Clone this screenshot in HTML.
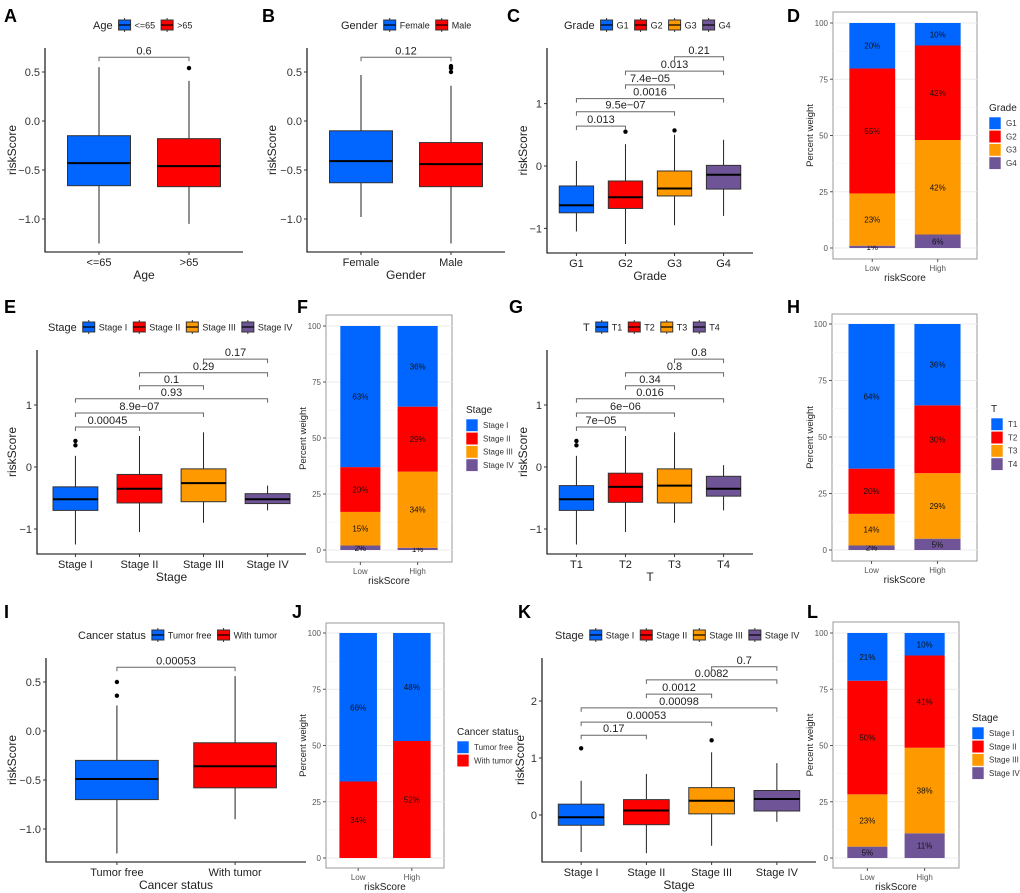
<!DOCTYPE html>
<html><head><meta charset="utf-8">
<style>
html,body{margin:0;padding:0;background:#fff;}
svg{display:block;font-family:"Liberation Sans",Arial,sans-serif;}
</style></head>
<body>
<svg id="fig" width="1020" height="893" viewBox="0 0 1020 893"></svg>
<script>
// ---------- DATA ----------
const A_categories=['<=65','>65'];
const A_min=[-1.25,-1.05], A_q1=[-0.66,-0.67], A_med=[-0.43,-0.46], A_q3=[-0.15,-0.18], A_max=[0.55,0.41];
const A_outliers=[[],[0.54]];
const A_cmpFrom=[0], A_cmpTo=[1], A_cmpLevel=[0.65], A_cmpP=['0.6'];
const A_ticks=[-1,-0.5,0,0.5], A_tickLabels=['\u22121.0','\u22120.5','0.0','0.5'];

const B_categories=['Female','Male'];
const B_min=[-0.98,-1.25], B_q1=[-0.63,-0.67], B_med=[-0.41,-0.44], B_q3=[-0.1,-0.22], B_max=[0.47,0.36];
const B_outliers=[[],[0.5,0.54,0.56]];
const B_cmpFrom=[0], B_cmpTo=[1], B_cmpLevel=[0.65], B_cmpP=['0.12'];

const C_categories=['G1','G2','G3','G4'];
const C_min=[-1.05,-1.25,-0.95,-0.8], C_q1=[-0.75,-0.68,-0.48,-0.37], C_med=[-0.63,-0.5,-0.36,-0.14], C_q3=[-0.32,-0.24,-0.08,0.01], C_max=[0.08,0.35,0.5,0.42];
const C_outliers=[[],[0.55],[0.57],[]];
const C_cmpFrom=[0,0,0,1,1,2], C_cmpTo=[1,2,3,2,3,3], C_cmpLevel=[0.64,0.87,1.08,1.3,1.52,1.75], C_cmpP=['0.013','9.5e\u221207','0.0016','7.4e\u221205','0.013','0.21'];
const C_ticks=[-1,0,1], C_tickLabels=['\u22121','0','1'];

const E_categories=['Stage I','Stage II','Stage III','Stage IV'];
const E_min=[-1.25,-1.05,-0.9,-0.7], E_q1=[-0.7,-0.58,-0.56,-0.59], E_med=[-0.52,-0.35,-0.26,-0.52], E_q3=[-0.32,-0.12,-0.03,-0.43], E_max=[0.18,0.5,0.56,-0.3];
const E_outliers=[[0.35,0.42],[],[],[]];
const E_cmpFrom=[0,0,0,1,1,2], E_cmpTo=[1,2,3,2,3,3], E_cmpLevel=[0.645,0.87,1.1,1.31,1.52,1.74], E_cmpP=['0.00045','8.9e\u221207','0.93','0.1','0.29','0.17'];

const G_categories=['T1','T2','T3','T4'];
const G_min=[-1.25,-1.05,-0.9,-0.7], G_q1=[-0.7,-0.57,-0.58,-0.47], G_med=[-0.52,-0.32,-0.3,-0.35], G_q3=[-0.3,-0.1,-0.03,-0.15], G_max=[0.18,0.5,0.56,0.03];
const G_outliers=[[0.35,0.42],[],[],[]];
const G_cmpFrom=[0,0,0,1,1,2], G_cmpTo=[1,2,3,2,3,3], G_cmpLevel=[0.645,0.87,1.1,1.31,1.52,1.74], G_cmpP=['7e\u221205','6e\u221206','0.016','0.34','0.8','0.8'];

const I_categories=['Tumor free','With tumor'];
const I_min=[-1.25,-0.9], I_q1=[-0.7,-0.58], I_med=[-0.49,-0.36], I_q3=[-0.3,-0.12], I_max=[0.26,0.56];
const I_outliers=[[0.36,0.5],[]];
const I_cmpFrom=[0], I_cmpTo=[1], I_cmpLevel=[0.65], I_cmpP=['0.00053'];

const K_categories=['Stage I','Stage II','Stage III','Stage IV'];
const K_min=[-0.65,-0.67,-0.54,-0.12], K_q1=[-0.18,-0.17,0.02,0.07], K_med=[-0.04,0.08,0.25,0.28], K_q3=[0.19,0.27,0.48,0.43], K_max=[0.6,0.72,1.1,0.91];
const K_outliers=[[1.17],[],[1.31],[]];
const K_cmpFrom=[0,0,0,1,1,2], K_cmpTo=[1,2,3,2,3,3], K_cmpLevel=[1.4,1.63,1.88,2.12,2.37,2.6], K_cmpP=['0.17','0.00053','0.00098','0.0012','0.0082','0.7'];
const K_ticks=[0,1,2], K_tickLabels=['0','1','2'];

// stacked bars (top category first)
const barGroups=['Low','High'];
const D_levels=['G1','G2','G3','G4'];
const D_low=[20,55,23,1], D_high=[10,42,42,6];
const F_levels=['Stage I','Stage II','Stage III','Stage IV'];
const F_low=[63,20,15,2], F_high=[36,29,34,1];
const H_levels=['T1','T2','T3','T4'];
const H_low=[64,20,14,2], H_high=[36,30,29,5];
const J_levels=['Tumor free','With tumor'];
const J_low=[66,34], J_high=[48,52];
const L_levels=['Stage I','Stage II','Stage III','Stage IV'];
const L_low=[21,50,23,5], L_high=[10,41,38,11];
const pctTicks=[0,25,50,75,100];

// ---------- DRAW ----------
const NS='http://www.w3.org/2000/svg';
const svg=document.getElementById('fig');
const PAL=['#0066FF','#FF0000','#FF9900','#6F5597'];
function mk(tag,attrs,parent){const e=document.createElementNS(NS,tag);for(const k in attrs)e.setAttribute(k,attrs[k]);(parent||svg).appendChild(e);return e;}
function txt(s,attrs,parent){const e=mk('text',attrs,parent);e.textContent=s;return e;}

function boxPanel(c){
  const g=mk('g',{});
  
  
  const n=c.cats.length, step=(c.right-c.axisX)/(n+0.2);
  const xs=i=>c.axisX+(0.6+i)*step;
  const ys=v=>c.p0-(v-c.v0)*c.ppu;
  const bw=0.7*step;
  // axes
  const ax=mk('path',{d:`M${c.axisX},${c.top}V${c.bottom}H${c.right}`,stroke:'#000','stroke-width':1.1,fill:'none'},g);
  
  
  c.ticks.forEach((t,i)=>{
    mk('line',{x1:c.axisX-3,x2:c.axisX,y1:ys(t),y2:ys(t),stroke:'#333'},g);
    const tl=txt(c.tickLabels[i],{x:c.axisX-5,y:ys(t)+4,'text-anchor':'end','font-size':11,fill:'#333'},g);
    
    
  });
  c.cats.forEach((cat,i)=>{
    mk('line',{x1:xs(i),x2:xs(i),y1:c.bottom,y2:c.bottom+3,stroke:'#333'},g);
    const xl=txt(cat,{x:xs(i),y:c.bottom+14,'text-anchor':'middle','font-size':11,fill:'#222'},g);
    
    
    // box
    const wh=mk('line',{x1:xs(i),x2:xs(i),y1:ys(c.max[i]),y2:ys(c.min[i]),stroke:'#222','stroke-width':1},g);
    
    
    const bx=mk('rect',{x:xs(i)-bw/2,y:ys(c.q3[i]),width:bw,height:ys(c.q1[i])-ys(c.q3[i]),fill:PAL[i],stroke:'#333','stroke-width':1},g);
    
    
    const md=mk('line',{x1:xs(i)-bw/2,x2:xs(i)+bw/2,y1:ys(c.med[i]),y2:ys(c.med[i]),stroke:'#000','stroke-width':2},g);
    
    
    c.out[i].forEach(o=>{
      const d=mk('circle',{cx:xs(i),cy:ys(o),r:2.2,fill:'#000'},g);
      
      
    });
  });
  // brackets
  c.from.forEach((f,k)=>{
    const y=ys(c.level[k]), x1=xs(f), x2=xs(c.to[k]);
    const br=mk('path',{d:`M${x1},${y+4}V${y}H${x2}V${y+4}`,stroke:'#666','stroke-width':1,fill:'none'},g);
    
    
    const pl=txt(c.p[k],{x:(x1+x2)/2,y:y-3,'text-anchor':'middle','font-size':11,fill:'#222'},g);
    
    
  });
  const xt=txt(c.xTitle,{x:(c.axisX+c.right)/2,y:c.bottom+27,'text-anchor':'middle','font-size':12,fill:'#222'},g);
  
  
  const yc=(c.top+c.bottom)/2;
  const yt=txt('riskScore',{x:c.yTitleX,y:yc,'text-anchor':'middle','font-size':12,fill:'#222',transform:`rotate(-90 ${c.yTitleX} ${yc})`},g);
  
  
  // legend
  let lx=c.legX;
  const lt=txt(c.xTitle,{x:lx,y:c.legY+4,'font-size':11,fill:'#222'},g);
  
  
  lx+=lt.getComputedTextLength()+6;
  c.cats.forEach((cat,i)=>{
    const le=mk('g',{},g);
    
    
    mk('line',{x1:lx+6,x2:lx+6,y1:c.legY-7,y2:c.legY+7,stroke:'#333'},le);
    mk('rect',{x:lx,y:c.legY-5,width:12,height:10,fill:PAL[i],stroke:'#333'},le);
    mk('line',{x1:lx,x2:lx+12,y1:c.legY,y2:c.legY,stroke:'#000','stroke-width':1.2},le);
    const t=txt(cat,{x:lx+16,y:c.legY+3.5,'font-size':9,fill:'#222'},le);
    lx+=16+t.getComputedTextLength()+6;
  });
}

function barPanel(c){
  const g=mk('g',{});
  
  
  const ys=v=>c.y0+(c.y100-c.y0)*v/100;
  const step=(c.bx2-c.bx1)/2.2, bw=0.7*step;
  const xs=i=>c.bx1+(0.6+i)*step;
  mk('rect',{x:c.bx1,y:c.by1,width:c.bx2-c.bx1,height:c.by2-c.by1,fill:'#fff',stroke:'#999','stroke-width':1},g);
  for(let v=12.5;v<100;v+=25) mk('line',{x1:c.bx1,x2:c.bx2,y1:ys(v),y2:ys(v),stroke:'#f3f3f3','stroke-width':0.6},g);
  pctTicks.forEach(t=>{
    mk('line',{x1:c.bx1,x2:c.bx2,y1:ys(t),y2:ys(t),stroke:'#ebebeb','stroke-width':1},g);
    mk('line',{x1:c.bx1-3,x2:c.bx1,y1:ys(t),y2:ys(t),stroke:'#555'},g);
    const tl=txt(String(t),{x:c.bx1-5,y:ys(t)+3,'text-anchor':'end','font-size':8,fill:'#555'},g);
    
    
  });
  [0,1].forEach(i=>mk('line',{x1:xs(i),x2:xs(i),y1:ys(0),y2:ys(100),stroke:'#ebebeb'},g));
  [c.low,c.high].forEach((vals,i)=>{
    const tot=vals.reduce((a,b)=>a+b,0);
    let cum=0;
    for(let k=vals.length-1;k>=0;k--){
      const a=cum/tot*100, b=(cum+vals[k])/tot*100; cum+=vals[k];
      const r=mk('rect',{x:xs(i)-bw/2,y:ys(b),width:bw,height:ys(a)-ys(b),fill:PAL[k]},g);
      
      
      const l=txt(vals[k]+'%',{x:xs(i),y:(ys(a)+ys(b))/2+3,'text-anchor':'middle','font-size':8,fill:'#111'},g);
      
      
    }
    mk('line',{x1:xs(i),x2:xs(i),y1:c.by2,y2:c.by2+3,stroke:'#555'},g);
    const xl=txt(barGroups[i],{x:xs(i),y:c.by2+12,'text-anchor':'middle','font-size':8,fill:'#555'},g);
    
    
  });
  const xt=txt('riskScore',{x:(c.bx1+c.bx2)/2,y:c.by2+22,'text-anchor':'middle','font-size':10,fill:'#222'},g);
  
  
  const yc=(c.by1+c.by2)/2;
  const yt=txt('Percent weight',{x:c.yTitleX,y:yc,'text-anchor':'middle','font-size':9.5,fill:'#222',transform:`rotate(-90 ${c.yTitleX} ${yc})`},g);
  
  
  const lt=txt(c.legTitle,{x:c.legX,y:c.legY,'font-size':10,fill:'#222'},g);
  
  
  c.levels.forEach((lv,k)=>{
    const le=mk('g',{},g);
    
    
    const y=c.legY+6+k*13.3;
    mk('rect',{x:c.legX,y:y,width:12,height:12.5,fill:PAL[k],stroke:'#fff','stroke-width':0.6},le);
    txt(lv,{x:c.legX+17,y:y+9,'font-size':8,fill:'#333'},le);
  });
}

function letter(s,x,y){const t=txt(s,{x:x,y:y,'font-size':18,'font-weight':'bold',fill:'#000'});
  
  }

const riskTicks=A_ticks, riskLabels=A_tickLabels;
boxPanel({id:'a',cats:A_categories,min:A_min,q1:A_q1,med:A_med,q3:A_q3,max:A_max,out:A_outliers,from:A_cmpFrom,to:A_cmpTo,level:A_cmpLevel,p:A_cmpP,ticks:riskTicks,tickLabels:riskLabels,
  axisX:45,right:243,top:48,bottom:252,v0:0.5,p0:72,ppu:98,xTitle:'Age',yTitleX:16,legX:93,legY:25});
boxPanel({id:'b',cats:B_categories,min:B_min,q1:B_q1,med:B_med,q3:B_q3,max:B_max,out:B_outliers,from:B_cmpFrom,to:B_cmpTo,level:B_cmpLevel,p:B_cmpP,ticks:riskTicks,tickLabels:riskLabels,
  axisX:307,right:505,top:48,bottom:252,v0:0.5,p0:72,ppu:98,xTitle:'Gender',yTitleX:276,legX:341,legY:25});
boxPanel({id:'c',cats:C_categories,min:C_min,q1:C_q1,med:C_med,q3:C_q3,max:C_max,out:C_outliers,from:C_cmpFrom,to:C_cmpTo,level:C_cmpLevel,p:C_cmpP,ticks:C_ticks,tickLabels:C_tickLabels,
  axisX:547,right:753,top:48,bottom:253,v0:0,p0:166,ppu:62.4,xTitle:'Grade',yTitleX:527,legX:564,legY:25});
boxPanel({id:'e',cats:E_categories,min:E_min,q1:E_q1,med:E_med,q3:E_q3,max:E_max,out:E_outliers,from:E_cmpFrom,to:E_cmpTo,level:E_cmpLevel,p:E_cmpP,ticks:C_ticks,tickLabels:C_tickLabels,
  axisX:37,right:306,top:350,bottom:554,v0:0,p0:467,ppu:62,xTitle:'Stage',yTitleX:16,legX:48,legY:327});
boxPanel({id:'g',cats:G_categories,min:G_min,q1:G_q1,med:G_med,q3:G_q3,max:G_max,out:G_outliers,from:G_cmpFrom,to:G_cmpTo,level:G_cmpLevel,p:G_cmpP,ticks:C_ticks,tickLabels:C_tickLabels,
  axisX:547,right:753,top:350,bottom:554,v0:0,p0:467,ppu:62,xTitle:'T',yTitleX:527,legX:583,legY:327});
boxPanel({id:'i',cats:I_categories,min:I_min,q1:I_q1,med:I_med,q3:I_q3,max:I_max,out:I_outliers,from:I_cmpFrom,to:I_cmpTo,level:I_cmpLevel,p:I_cmpP,ticks:riskTicks,tickLabels:riskLabels,
  axisX:46,right:306,top:658,bottom:862,v0:0,p0:731,ppu:98,xTitle:'Cancer status',yTitleX:16,legX:78,legY:635});
boxPanel({id:'k',cats:K_categories,min:K_min,q1:K_q1,med:K_med,q3:K_q3,max:K_max,out:K_outliers,from:K_cmpFrom,to:K_cmpTo,level:K_cmpLevel,p:K_cmpP,ticks:K_ticks,tickLabels:K_tickLabels,
  axisX:542,right:816,top:658,bottom:862,v0:0,p0:815,ppu:57,xTitle:'Stage',yTitleX:524,legX:555,legY:635});

barPanel({id:'d',levels:D_levels,low:D_low,high:D_high,bx1:833,bx2:977,by1:12,by2:259,y0:248,y100:23,yTitleX:813,legTitle:'Grade',legX:989,legY:111});
barPanel({id:'f',levels:F_levels,low:F_low,high:F_high,bx1:326,bx2:452,by1:315,by2:562,y0:550,y100:326,yTitleX:306,legTitle:'Stage',legX:466,legY:413});
barPanel({id:'h',levels:H_levels,low:H_low,high:H_high,bx1:832,bx2:977,by1:314,by2:561,y0:550,y100:324,yTitleX:813,legTitle:'T',legX:991,legY:412});
barPanel({id:'j',levels:J_levels,low:J_low,high:J_high,bx1:326,bx2:444,by1:623,by2:868,y0:858,y100:633,yTitleX:306,legTitle:'Cancer status',legX:457,legY:735});
barPanel({id:'l',levels:L_levels,low:L_low,high:L_high,bx1:833,bx2:959,by1:622,by2:868,y0:858,y100:633,yTitleX:813,legTitle:'Stage',legX:972,legY:721});

letter('A',4,22);letter('B',262,22);letter('C',507,22);letter('D',787,22);
letter('E',4,313);letter('F',297,313);letter('G',509,313);letter('H',787,313);
letter('I',4,618);letter('J',292,618);letter('K',518,618);letter('L',807,618);
</script>
</body></html>
